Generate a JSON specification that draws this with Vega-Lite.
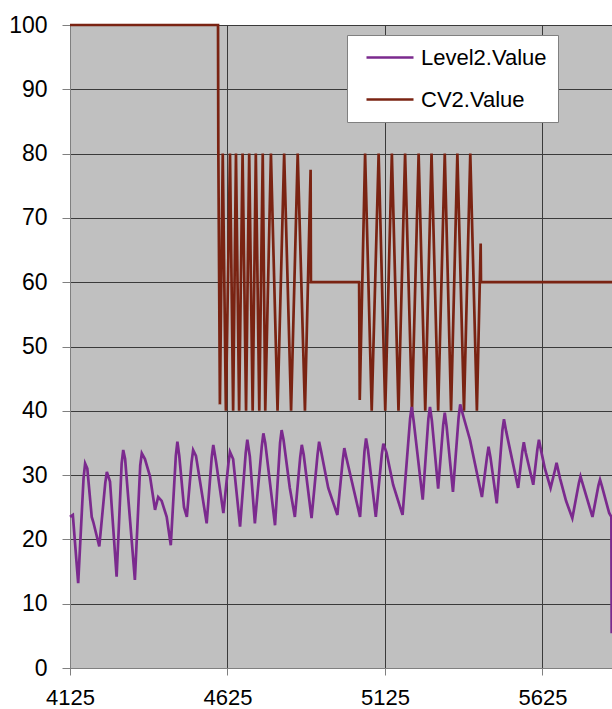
{
  "$schema": "https://vega.github.io/schema/vega-lite/v6.json",
  "width": 542,
  "height": 643,
  "autosize": {"type": "none"},
  "padding": {"left": 70, "top": 25, "right": 0, "bottom": 41},
  "background": "white",
  "config": {
    "view": {"fill": "#c0c0c0", "stroke": "#808080", "strokeWidth": 1},
    "font": "Liberation Sans"
  },
  "datasets": {
    "level": [
      {"x": 4125, "v": 23.5, "s": "Level2.Value"},
      {"x": 4134, "v": 23.8, "s": "Level2.Value"},
      {"x": 4151, "v": 13.2, "s": "Level2.Value"},
      {"x": 4168, "v": 29.5, "s": "Level2.Value"},
      {"x": 4173, "v": 31.8, "s": "Level2.Value"},
      {"x": 4180, "v": 31.0, "s": "Level2.Value"},
      {"x": 4194, "v": 23.5, "s": "Level2.Value"},
      {"x": 4199, "v": 22.7, "s": "Level2.Value"},
      {"x": 4218, "v": 18.9, "s": "Level2.Value"},
      {"x": 4237, "v": 28.8, "s": "Level2.Value"},
      {"x": 4242, "v": 30.5, "s": "Level2.Value"},
      {"x": 4252, "v": 29.0, "s": "Level2.Value"},
      {"x": 4273, "v": 14.2, "s": "Level2.Value"},
      {"x": 4289, "v": 31.8, "s": "Level2.Value"},
      {"x": 4294, "v": 33.9, "s": "Level2.Value"},
      {"x": 4300, "v": 32.5, "s": "Level2.Value"},
      {"x": 4331, "v": 13.7, "s": "Level2.Value"},
      {"x": 4348, "v": 31.5, "s": "Level2.Value"},
      {"x": 4353, "v": 33.4, "s": "Level2.Value"},
      {"x": 4363, "v": 32.5, "s": "Level2.Value"},
      {"x": 4379, "v": 29.8, "s": "Level2.Value"},
      {"x": 4395, "v": 24.6, "s": "Level2.Value"},
      {"x": 4405, "v": 26.6, "s": "Level2.Value"},
      {"x": 4416, "v": 26.0, "s": "Level2.Value"},
      {"x": 4432, "v": 23.5, "s": "Level2.Value"},
      {"x": 4445, "v": 19.1, "s": "Level2.Value"},
      {"x": 4461, "v": 33.0, "s": "Level2.Value"},
      {"x": 4466, "v": 35.2, "s": "Level2.Value"},
      {"x": 4472, "v": 33.0, "s": "Level2.Value"},
      {"x": 4487, "v": 25.0, "s": "Level2.Value"},
      {"x": 4496, "v": 23.5, "s": "Level2.Value"},
      {"x": 4511, "v": 32.0, "s": "Level2.Value"},
      {"x": 4516, "v": 33.9, "s": "Level2.Value"},
      {"x": 4525, "v": 33.0, "s": "Level2.Value"},
      {"x": 4559, "v": 22.5, "s": "Level2.Value"},
      {"x": 4575, "v": 32.8, "s": "Level2.Value"},
      {"x": 4580, "v": 34.7, "s": "Level2.Value"},
      {"x": 4589, "v": 32.0, "s": "Level2.Value"},
      {"x": 4612, "v": 24.1, "s": "Level2.Value"},
      {"x": 4628, "v": 31.8, "s": "Level2.Value"},
      {"x": 4633, "v": 33.6, "s": "Level2.Value"},
      {"x": 4643, "v": 32.5, "s": "Level2.Value"},
      {"x": 4665, "v": 22.0, "s": "Level2.Value"},
      {"x": 4683, "v": 33.5, "s": "Level2.Value"},
      {"x": 4688, "v": 35.5, "s": "Level2.Value"},
      {"x": 4696, "v": 32.9, "s": "Level2.Value"},
      {"x": 4712, "v": 22.5, "s": "Level2.Value"},
      {"x": 4734, "v": 34.5, "s": "Level2.Value"},
      {"x": 4739, "v": 36.5, "s": "Level2.Value"},
      {"x": 4745, "v": 35.0, "s": "Level2.Value"},
      {"x": 4776, "v": 22.2, "s": "Level2.Value"},
      {"x": 4792, "v": 35.0, "s": "Level2.Value"},
      {"x": 4797, "v": 37.0, "s": "Level2.Value"},
      {"x": 4803, "v": 35.5, "s": "Level2.Value"},
      {"x": 4823, "v": 28.0, "s": "Level2.Value"},
      {"x": 4839, "v": 23.5, "s": "Level2.Value"},
      {"x": 4856, "v": 32.8, "s": "Level2.Value"},
      {"x": 4861, "v": 34.7, "s": "Level2.Value"},
      {"x": 4867, "v": 33.2, "s": "Level2.Value"},
      {"x": 4892, "v": 23.3, "s": "Level2.Value"},
      {"x": 4911, "v": 33.2, "s": "Level2.Value"},
      {"x": 4916, "v": 35.2, "s": "Level2.Value"},
      {"x": 4922, "v": 33.8, "s": "Level2.Value"},
      {"x": 4945, "v": 28.0, "s": "Level2.Value"},
      {"x": 4974, "v": 23.8, "s": "Level2.Value"},
      {"x": 4991, "v": 32.3, "s": "Level2.Value"},
      {"x": 4996, "v": 34.2, "s": "Level2.Value"},
      {"x": 5002, "v": 32.8, "s": "Level2.Value"},
      {"x": 5046, "v": 23.5, "s": "Level2.Value"},
      {"x": 5060, "v": 33.7, "s": "Level2.Value"},
      {"x": 5065, "v": 35.7, "s": "Level2.Value"},
      {"x": 5071, "v": 34.0, "s": "Level2.Value"},
      {"x": 5096, "v": 23.5, "s": "Level2.Value"},
      {"x": 5115, "v": 33.2, "s": "Level2.Value"},
      {"x": 5120, "v": 34.9, "s": "Level2.Value"},
      {"x": 5130, "v": 33.5, "s": "Level2.Value"},
      {"x": 5151, "v": 28.5, "s": "Level2.Value"},
      {"x": 5181, "v": 23.8, "s": "Level2.Value"},
      {"x": 5205, "v": 38.8, "s": "Level2.Value"},
      {"x": 5210, "v": 40.6, "s": "Level2.Value"},
      {"x": 5216, "v": 38.5, "s": "Level2.Value"},
      {"x": 5245, "v": 26.2, "s": "Level2.Value"},
      {"x": 5263, "v": 38.8, "s": "Level2.Value"},
      {"x": 5268, "v": 40.6, "s": "Level2.Value"},
      {"x": 5274, "v": 38.5, "s": "Level2.Value"},
      {"x": 5294, "v": 27.9, "s": "Level2.Value"},
      {"x": 5310, "v": 37.8, "s": "Level2.Value"},
      {"x": 5315, "v": 39.7, "s": "Level2.Value"},
      {"x": 5321, "v": 37.5, "s": "Level2.Value"},
      {"x": 5341, "v": 27.4, "s": "Level2.Value"},
      {"x": 5359, "v": 39.0, "s": "Level2.Value"},
      {"x": 5364, "v": 41.0, "s": "Level2.Value"},
      {"x": 5372, "v": 39.5, "s": "Level2.Value"},
      {"x": 5395, "v": 35.5, "s": "Level2.Value"},
      {"x": 5433, "v": 26.6, "s": "Level2.Value"},
      {"x": 5449, "v": 32.8, "s": "Level2.Value"},
      {"x": 5454, "v": 34.4, "s": "Level2.Value"},
      {"x": 5460, "v": 32.8, "s": "Level2.Value"},
      {"x": 5480, "v": 25.6, "s": "Level2.Value"},
      {"x": 5498, "v": 37.0, "s": "Level2.Value"},
      {"x": 5503, "v": 38.7, "s": "Level2.Value"},
      {"x": 5510, "v": 36.8, "s": "Level2.Value"},
      {"x": 5522, "v": 34.0, "s": "Level2.Value"},
      {"x": 5548, "v": 28.0, "s": "Level2.Value"},
      {"x": 5561, "v": 33.6, "s": "Level2.Value"},
      {"x": 5566, "v": 35.1, "s": "Level2.Value"},
      {"x": 5572, "v": 33.5, "s": "Level2.Value"},
      {"x": 5596, "v": 28.5, "s": "Level2.Value"},
      {"x": 5609, "v": 34.0, "s": "Level2.Value"},
      {"x": 5614, "v": 35.5, "s": "Level2.Value"},
      {"x": 5620, "v": 34.0, "s": "Level2.Value"},
      {"x": 5633, "v": 31.0, "s": "Level2.Value"},
      {"x": 5651, "v": 28.0, "s": "Level2.Value"},
      {"x": 5665, "v": 30.8, "s": "Level2.Value"},
      {"x": 5670, "v": 31.9, "s": "Level2.Value"},
      {"x": 5681, "v": 29.5, "s": "Level2.Value"},
      {"x": 5700, "v": 26.0, "s": "Level2.Value"},
      {"x": 5720, "v": 23.3, "s": "Level2.Value"},
      {"x": 5741, "v": 28.8, "s": "Level2.Value"},
      {"x": 5746, "v": 29.8, "s": "Level2.Value"},
      {"x": 5752, "v": 28.8, "s": "Level2.Value"},
      {"x": 5784, "v": 23.5, "s": "Level2.Value"},
      {"x": 5803, "v": 28.4, "s": "Level2.Value"},
      {"x": 5808, "v": 29.3, "s": "Level2.Value"},
      {"x": 5814, "v": 28.3, "s": "Level2.Value"},
      {"x": 5837, "v": 24.1, "s": "Level2.Value"},
      {"x": 5844, "v": 23.5, "s": "Level2.Value"},
      {"x": 5845, "v": 5.4, "s": "Level2.Value"}
    ],
    "cv": [
      {"x": 4125, "v": 100, "s": "CV2.Value"},
      {"x": 4595, "v": 100, "s": "CV2.Value"},
      {"x": 4596, "v": 80.5, "s": "CV2.Value"},
      {"x": 4601, "v": 41, "s": "CV2.Value"},
      {"x": 4610, "v": 80, "s": "CV2.Value"},
      {"x": 4620, "v": 40, "s": "CV2.Value"},
      {"x": 4633, "v": 80, "s": "CV2.Value"},
      {"x": 4643, "v": 40, "s": "CV2.Value"},
      {"x": 4652, "v": 80, "s": "CV2.Value"},
      {"x": 4662, "v": 40, "s": "CV2.Value"},
      {"x": 4673, "v": 80, "s": "CV2.Value"},
      {"x": 4684, "v": 40, "s": "CV2.Value"},
      {"x": 4694, "v": 80, "s": "CV2.Value"},
      {"x": 4705, "v": 40, "s": "CV2.Value"},
      {"x": 4715, "v": 80, "s": "CV2.Value"},
      {"x": 4726, "v": 40, "s": "CV2.Value"},
      {"x": 4737, "v": 80, "s": "CV2.Value"},
      {"x": 4745, "v": 40, "s": "CV2.Value"},
      {"x": 4763, "v": 80, "s": "CV2.Value"},
      {"x": 4784, "v": 40, "s": "CV2.Value"},
      {"x": 4805, "v": 80, "s": "CV2.Value"},
      {"x": 4827, "v": 40, "s": "CV2.Value"},
      {"x": 4848, "v": 80, "s": "CV2.Value"},
      {"x": 4871, "v": 40, "s": "CV2.Value"},
      {"x": 4889, "v": 77.5, "s": "CV2.Value"},
      {"x": 4890, "v": 60, "s": "CV2.Value"},
      {"x": 5043, "v": 60, "s": "CV2.Value"},
      {"x": 5045, "v": 41.7, "s": "CV2.Value"},
      {"x": 5062, "v": 80, "s": "CV2.Value"},
      {"x": 5083, "v": 40, "s": "CV2.Value"},
      {"x": 5105, "v": 80, "s": "CV2.Value"},
      {"x": 5126, "v": 40, "s": "CV2.Value"},
      {"x": 5147, "v": 80, "s": "CV2.Value"},
      {"x": 5168, "v": 40, "s": "CV2.Value"},
      {"x": 5189, "v": 80, "s": "CV2.Value"},
      {"x": 5211, "v": 40, "s": "CV2.Value"},
      {"x": 5232, "v": 80, "s": "CV2.Value"},
      {"x": 5253, "v": 40, "s": "CV2.Value"},
      {"x": 5273, "v": 80, "s": "CV2.Value"},
      {"x": 5294, "v": 40, "s": "CV2.Value"},
      {"x": 5315, "v": 80, "s": "CV2.Value"},
      {"x": 5335, "v": 40, "s": "CV2.Value"},
      {"x": 5355, "v": 80, "s": "CV2.Value"},
      {"x": 5376, "v": 40, "s": "CV2.Value"},
      {"x": 5396, "v": 80, "s": "CV2.Value"},
      {"x": 5417, "v": 40, "s": "CV2.Value"},
      {"x": 5429, "v": 66, "s": "CV2.Value"},
      {"x": 5430, "v": 60, "s": "CV2.Value"},
      {"x": 5846, "v": 60, "s": "CV2.Value"}
    ]
  },
  "encoding": {
    "x": {
      "field": "x",
      "type": "quantitative",
      "scale": {"domain": [4125, 5846], "nice": false, "zero": false},
      "axis": {
        "title": null,
        "values": [4125, 4625, 5125, 5625],
        "format": "d",
        "grid": true,
        "gridColor": "#3a3a3a",
        "gridWidth": 1,
        "domainColor": "#808080",
        "tickColor": "#808080",
        "tickSize": 7,
        "labelFontSize": 22,
        "labelFont": "Liberation Sans",
        "labelColor": "black",
        "labelPadding": 12,
        "labelFlush": false
      }
    },
    "y": {
      "field": "v",
      "type": "quantitative",
      "scale": {"domain": [0, 100], "nice": false},
      "axis": {
        "title": null,
        "values": [0, 10, 20, 30, 40, 50, 60, 70, 80, 90, 100],
        "grid": true,
        "gridColor": "#3a3a3a",
        "gridWidth": 1,
        "domainColor": "#808080",
        "tickColor": "#808080",
        "tickSize": 8,
        "labelFontSize": 23,
        "labelFont": "Liberation Sans",
        "labelColor": "black",
        "labelPadding": 15
      }
    },
    "color": {
      "field": "s",
      "type": "nominal",
      "scale": {"domain": ["Level2.Value", "CV2.Value"], "range": ["#7B2A8E", "#7A2312"]},
      "legend": {
        "title": null,
        "orient": "none",
        "legendX": 277,
        "legendY": 10,
        "fillColor": "white",
        "strokeColor": "#808080",
        "padding": 11,
        "symbolType": "M-2.35,0H2.35",
        "symbolSize": 400,
        "symbolStrokeWidth": 2.5,
        "symbolOffset": 20.5,
        "labelOffset": 19.5,
        "rowPadding": 19,
        "labelFontSize": 22,
        "labelFont": "Liberation Sans",
        "labelColor": "black",
        "labelBaseline": "middle"
      }
    }
  },
  "layer": [
    {
      "data": {"name": "cv"},
      "mark": {"type": "line", "strokeWidth": 2.7}
    },
    {
      "data": {"name": "level"},
      "mark": {"type": "line", "strokeWidth": 2.7}
    }
  ]
}
